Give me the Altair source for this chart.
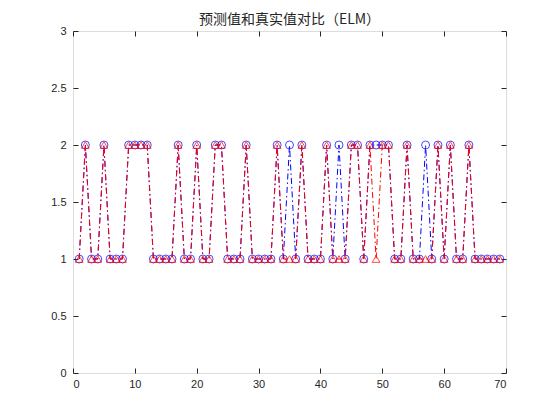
import altair as alt
import pandas as pd

# sample index
idx = list(range(1, 70))
# true values (red triangles)
true_vals = [1,2,1,1,2,1,1,1,2,2, 2,2,1,1,1,1,2,1,1,2, 1,1,2,2,1,1,1,2,1,1,
             1,1,2,1,1,1,2,1,1,1, 2,1,1,1,2,2,1,2,1,2, 2,1,1,2,1,1,1,1,2,1,
             2,1,1,2,1,1,1,1,1]
# predicted values (blue circles)
pred_vals = [1,2,1,1,2,1,1,1,2,2, 2,2,1,1,1,1,2,1,1,2, 1,1,2,2,1,1,1,2,1,1,
             1,1,2,1,2,1,2,1,1,1, 2,1,2,1,2,2,1,2,2,2, 2,1,1,2,1,1,2,1,2,1,
             2,1,1,2,1,1,1,1,1]
x_ticks = [0, 10, 20, 30, 40, 50, 60, 70]
y_ticks = [0, 0.5, 1, 1.5, 2, 2.5, 3]
title_text = "预测值和真实值对比（ELM）"

df = pd.DataFrame({
    "idx": idx * 2,
    "val": pred_vals + true_vals,
    "series": ["pred"] * len(idx) + ["true"] * len(idx),
})

W, H = 433, 342
xs = alt.Scale(domain=[0, 70], nice=False, zero=False)
ys = alt.Scale(domain=[0, 3], nice=False, zero=False)
dash = [6, 3, 1.5, 3]
common = dict(domain=False, grid=False, title=None, tickSize=5, tickColor="#262626", tickWidth=1,
              labelFont="Liberation Sans", labelFontSize=11, labelColor="#262626")

base = alt.Chart(df)

# inward-pointing axes: top-oriented axis moved to the bottom edge, right-oriented axis moved to the left edge
x_main = alt.X("idx:Q", scale=xs, axis=alt.Axis(orient="top", offset=-H, values=x_ticks, format="d",
               labelBaseline="top", labelPadding=-10, **common))
y_main = alt.Y("val:Q", scale=ys, axis=alt.Axis(orient="right", offset=-W, values=y_ticks, format="~r",
               labelAlign="right", labelPadding=-12, **common))
x_none = alt.X("idx:Q", scale=xs, axis=None)
y_none = alt.Y("val:Q", scale=ys, axis=None)

pred = base.transform_filter(alt.datum.series == "pred")
true = base.transform_filter(alt.datum.series == "true")

blue_line = pred.mark_line(color="#0000ff", strokeDash=dash, strokeWidth=1).encode(x=x_main, y=y_main)
blue_pts = pred.mark_point(shape="circle", color="#0000ff", filled=False, size=64, strokeWidth=1).encode(
    x=x_none, y=y_none)
red_line = true.mark_line(color="#ff0000", strokeDash=dash, strokeWidth=1).encode(x=x_none, y=y_none)
red_pts = true.mark_point(shape="triangle-up", color="#ff0000", filled=False, size=60, strokeWidth=1).encode(
    x=x_none, y=y_none)

ticks_b = base.mark_point(opacity=0).encode(
    x=alt.X("idx:Q", scale=xs, axis=alt.Axis(orient="bottom", offset=-H, values=x_ticks, labels=False,
            domain=False, grid=False, title=None, tickSize=5, tickColor="#262626", tickWidth=1)),
    y=alt.Y("val:Q", scale=ys, axis=alt.Axis(orient="left", offset=-W, values=y_ticks, labels=False,
            domain=False, grid=False, title=None, tickSize=5, tickColor="#262626", tickWidth=1)))

chart = alt.layer(blue_line, blue_pts, red_line, red_pts, ticks_b).resolve_axis(
    x="independent", y="independent"
).properties(
    width=W, height=H,
    title=alt.TitleParams(title_text, font="Noto Sans CJK SC", fontSize=14, fontWeight="normal",
                          color="#262626", offset=-2, anchor="middle"),
    autosize=alt.AutoSizeParams(type="none"),
    padding={"left": 65, "top": 23, "right": 40, "bottom": 30},
).configure_view(stroke="#262626", strokeWidth=1).configure(background="white")

chart.save("out.html", embed_options={"renderer": "svg", "actions": False})
